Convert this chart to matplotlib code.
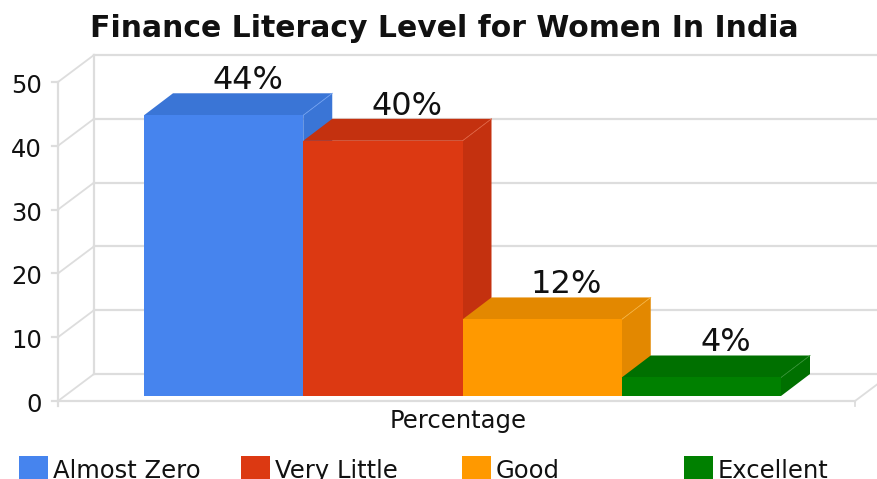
import matplotlib
matplotlib.use('Agg')
import matplotlib.pyplot as plt
from matplotlib.patches import Polygon, Rectangle

# data
categories = ['Almost Zero', 'Very Little', 'Good', 'Excellent']
values = [44, 40, 12, 2.9]
value_labels = ['44%', '40%', '12%', '4%']
y_ticks = [0, 10, 20, 30, 40, 50]
x_label = 'Percentage'
title = 'Finance Literacy Level for Women In India'

colors = ['#4684ee', '#dc3912', '#ff9900', '#008000']
side_colors = ['#3a75d6', '#c4310f', '#e38800', '#007000']
edge_colors = ['#6f9ff0', '#e0603f', '#f5b13d', '#2f8f2f']
legend_x = [19, 241, 462, 684]

W, H = 877, 479
GRID = '#dddddd'
TEXT = '#111111'
FONT = 'DejaVu Sans'

fig = plt.figure(figsize=(W / 100, H / 100), dpi=100)
# front face of the fake 3d box: 58..855 px wide, 82..401 px high
ax = fig.add_axes([58 / W, 1 - 401 / H, (855 - 58) / W, (401 - 82) / H])
ax.set_ylim(0, 50)
bar_w = 159.25  # px per category
ax.set_xlim((58 - 144) / bar_w, (855 - 144) / bar_w)
ax.axis('off')

px_x = 1 / bar_w
px_y = 50 / 319
# back wall offset
back_dx, back_dy = 36 * px_x, 27 * px_y
# bar depth and lift above the floor line
bar_dx, bar_dy = 29 * px_x, 22 * px_y
lift = 5 * px_y

x0, x1 = ax.get_xlim()
right_end = (877 - 144) / bar_w

# grid on the walls
for t in y_ticks:
    ax.plot([x0 - 6 * px_x, x0], [t, t], color=GRID, lw=1.6, clip_on=False, zorder=1)
    ax.plot([x0, x0 + back_dx], [t, t + back_dy], color=GRID, lw=1.3, clip_on=False, zorder=1)
    ax.plot([x0 + back_dx, right_end], [t + back_dy, t + back_dy], color=GRID, lw=1.6, clip_on=False, zorder=1)
    ax.text(x0 - 16 * px_x, t - 4 * px_y, str(t), ha='right', va='center', fontsize=17.5, color=TEXT, family=FONT)

ax.plot([x0, x0], [-5 * px_y, 50], color=GRID, lw=1.6, clip_on=False, zorder=1)
ax.plot([x0 + back_dx, x0 + back_dx], [back_dy, 50 + back_dy], color=GRID, lw=1.6, clip_on=False, zorder=1)
ax.plot([x0, x1], [0, 0], color=GRID, lw=1.6, clip_on=False, zorder=1)
ax.plot([x1, x1], [-5 * px_y, 0], color=GRID, lw=1.3, clip_on=False, zorder=1)
ax.plot([x1, x1 + back_dx], [0, back_dy], color=GRID, lw=1.3, clip_on=False, zorder=1)

# bars, left to right so each front face covers the side of the one before
for i, v in enumerate(values):
    top = v + lift
    ax.add_patch(Polygon([(i, top), (i + 1, top), (i + 1 + bar_dx, top + bar_dy), (i + bar_dx, top + bar_dy)],
                         closed=True, fc=side_colors[i], ec='none', clip_on=False, zorder=2 + i))
    ax.add_patch(Polygon([(i + 1, lift), (i + 1, top), (i + 1 + bar_dx, top + bar_dy), (i + 1 + bar_dx, lift + bar_dy)],
                         closed=True, fc=side_colors[i], ec='none', clip_on=False, zorder=2 + i))
    # thin light edge on the top corner
    ax.plot([i + 1, i + 1 + bar_dx], [top, top + bar_dy], color=edge_colors[i], lw=0.6, clip_on=False, zorder=2 + i)
    ax.add_patch(Rectangle((i, lift), 1, v, fc=colors[i], ec='none', clip_on=False, zorder=3 + i))
    ax.text(i + 0.5 + 24 * px_x, top + bar_dy + 4 * px_y, value_labels[i], ha='center', va='baseline',
            fontsize=23, color=TEXT, family=FONT, zorder=20)

# texts
fig.text(444 / W, 1 - 37 / H, title, ha='center', va='baseline', fontsize=21.5, fontweight='bold',
         color='#111111', family=FONT)
fig.text(458 / W, 1 - 428 / H, x_label, ha='center', va='baseline', fontsize=17.5, color=TEXT, family=FONT)

# legend, cut by the lower edge as in the source picture
for name, c, lx in zip(categories, colors, legend_x):
    fig.patches.append(Rectangle((lx / W, 1 - 485 / H), 29 / W, 29 / H, transform=fig.transFigure, fc=c, ec='none'))
    fig.text((lx + 34) / W, 1 - 478 / H, name, ha='left', va='baseline', fontsize=17.5, color=TEXT, family=FONT)

plt.savefig('out.png', dpi=100)
